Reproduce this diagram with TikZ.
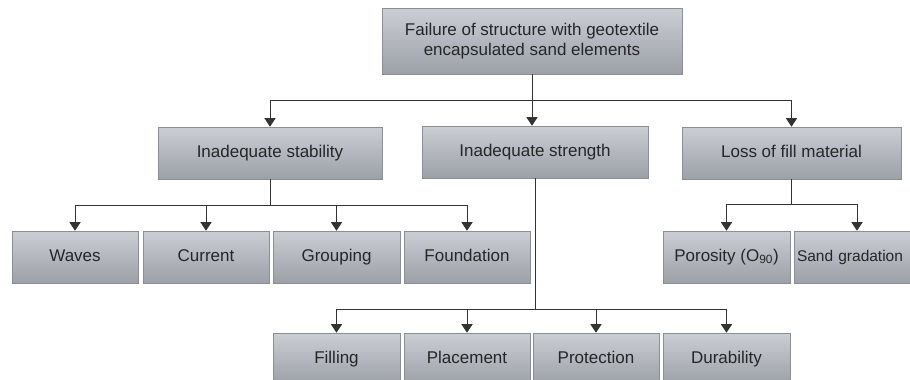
\documentclass[tikz,border=0pt]{standalone}
\usepackage{fontspec}
\setmainfont{Liberation Sans}
\usetikzlibrary{arrows.meta,shadows}
\definecolor{boxtop}{HTML}{CBCED3}
\definecolor{boxbot}{HTML}{9CA0A7}
\definecolor{boxline}{HTML}{8A8E95}
\definecolor{txt}{HTML}{262628}
\definecolor{wire}{HTML}{333333}
\tikzset{
  gbox/.style={draw=boxline, line width=0.6pt, top color=boxtop, bottom color=boxbot,
    text=txt, font=\fontsize{17}{20}\selectfont, align=center, inner sep=0pt,
    text height=12pt, text depth=3.5pt,
    minimum height=52pt, drop shadow={shadow xshift=1pt, shadow yshift=-1pt, fill=gray!35, opacity=0.6}},
  wline/.style={draw=wire, line width=1pt},
  warr/.style={wline, -{Triangle[width=11pt,length=8.5pt]}}
}
\begin{document}
\begin{tikzpicture}[x=1pt,y=1pt]
\useasboundingbox (0,0) rectangle (910,-380);
\clip (0,0) rectangle (910,-380);
% top
\node[gbox, minimum width=300pt, minimum height=66pt, text height=, text depth=] (top) at (532,-41) {Failure of structure with geotextile\\encapsulated sand elements};
% level 2
\node[gbox, minimum width=224pt] (stab) at (270,-153) {Inadequate stability};
\node[gbox, minimum width=226pt] (str) at (535,-152) {Inadequate strength};
\node[gbox, minimum width=219pt] (loss) at (791.5,-153) {Loss of fill material};
% level 3
\node[gbox, minimum width=126pt] (waves) at (75,-257) {Waves};
\node[gbox, minimum width=126pt] (cur) at (206,-257) {Current};
\node[gbox, minimum width=127pt] (grp) at (336.5,-257) {Grouping};
\node[gbox, minimum width=126pt] (fnd) at (467,-257) {Foundation};
\node[gbox, minimum width=127pt] (por) at (726.5,-257) {Porosity (O\textsubscript{90})};
\node[gbox, minimum width=126pt, text width=120pt, align=left, font=\fontsize{15.5}{18}\selectfont] (sand) at (857,-257) {Sand gradation};
% level 4
\node[gbox, minimum width=127pt] (fill) at (336.5,-359) {Filling};
\node[gbox, minimum width=126pt] (plc) at (467,-359) {Placement};
\node[gbox, minimum width=126pt] (prt) at (596,-359) {Protection};
\node[gbox, minimum width=127pt] (dur) at (726.5,-359) {Durability};
% connectors from top
\coordinate (b1) at (532,-100);
\draw[wline] (stab.north |- b1) -- (loss.north |- b1);
\draw[warr] (top.south) -- (top.south |- str.north);
\draw[warr] (stab.north |- b1) -- (stab.north);
\draw[warr] (loss.north |- b1) -- (loss.north);
% stability
\coordinate (b2) at (272,-205);
\draw[wline] (stab.south) -- (stab.south |- b2);
\draw[wline] (waves.north |- b2) -- (fnd.north |- b2);
\draw[warr] (waves.north |- b2) -- (waves.north);
\draw[warr] (cur.north |- b2) -- (cur.north);
\draw[warr] (grp.north |- b2) -- (grp.north);
\draw[warr] (fnd.north |- b2) -- (fnd.north);
% loss
\coordinate (b3) at (792,-204);
\draw[wline] (loss.south) -- (loss.south |- b3);
\draw[wline] (por.north |- b3) -- (sand.north |- b3);
\draw[warr] (por.north |- b3) -- (por.north);
\draw[warr] (sand.north |- b3) -- (sand.north);
% strength
\coordinate (b4) at (535,-309);
\draw[wline] (str.south) -- (str.south |- b4);
\draw[wline] (fill.north |- b4) -- (dur.north |- b4);
\draw[warr] (fill.north |- b4) -- (fill.north);
\draw[warr] (plc.north |- b4) -- (plc.north);
\draw[warr] (prt.north |- b4) -- (prt.north);
\draw[warr] (dur.north |- b4) -- (dur.north);
\end{tikzpicture}
\end{document}
